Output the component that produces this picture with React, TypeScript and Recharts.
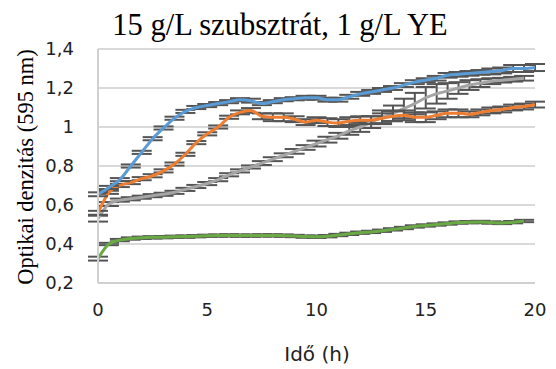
import React from "react";
import { LineChart, Line, XAxis, YAxis, CartesianGrid, ErrorBar } from "recharts";

const times = [0, 0.5, 1, 1.5, 2, 2.5, 3, 3.5, 4, 4.5, 5, 5.5, 6, 6.5, 7, 7.5, 8, 8.5, 9, 9.5, 10, 10.5, 11, 11.5, 12, 12.5, 13, 13.5, 14, 14.5, 15, 15.5, 16, 16.5, 17, 17.5, 18, 18.5, 19, 19.5, 20];

const blue = [0.655, 0.69, 0.73, 0.8, 0.87, 0.94, 0.995, 1.045, 1.08, 1.1, 1.11, 1.12, 1.13, 1.14, 1.135, 1.12, 1.13, 1.14, 1.145, 1.15, 1.15, 1.14, 1.14, 1.155, 1.17, 1.18, 1.19, 1.2, 1.215, 1.23, 1.24, 1.25, 1.265, 1.27, 1.275, 1.28, 1.285, 1.29, 1.3, 1.3, 1.305];
const blueErr = [0.01, 0.008, 0.008, 0.008, 0.008, 0.008, 0.008, 0.008, 0.008, 0.008, 0.008, 0.008, 0.008, 0.008, 0.01, 0.008, 0.008, 0.008, 0.008, 0.01, 0.01, 0.01, 0.01, 0.01, 0.01, 0.01, 0.01, 0.01, 0.01, 0.01, 0.01, 0.012, 0.012, 0.012, 0.012, 0.012, 0.015, 0.015, 0.018, 0.018, 0.018];

const orange = [0.56, 0.665, 0.7, 0.715, 0.735, 0.75, 0.775, 0.81, 0.86, 0.92, 0.965, 1.0, 1.05, 1.075, 1.085, 1.055, 1.05, 1.05, 1.04, 1.025, 1.035, 1.025, 1.02, 1.03, 1.035, 1.035, 1.045, 1.055, 1.06, 1.05, 1.05, 1.06, 1.07, 1.07, 1.065, 1.075, 1.085, 1.09, 1.1, 1.105, 1.115];
const orangeErr = [0.01, 0.008, 0.008, 0.008, 0.008, 0.008, 0.008, 0.008, 0.008, 0.008, 0.008, 0.008, 0.008, 0.01, 0.012, 0.015, 0.02, 0.02, 0.015, 0.015, 0.015, 0.02, 0.02, 0.02, 0.02, 0.02, 0.025, 0.025, 0.025, 0.025, 0.025, 0.02, 0.02, 0.02, 0.015, 0.015, 0.015, 0.015, 0.015, 0.015, 0.015];

const gray = [0.53, 0.605, 0.625, 0.632, 0.64, 0.648, 0.655, 0.665, 0.68, 0.695, 0.71, 0.73, 0.755, 0.775, 0.795, 0.815, 0.835, 0.855, 0.875, 0.895, 0.915, 0.935, 0.955, 0.98, 1.0, 1.025, 1.05, 1.07, 1.095, 1.12, 1.15, 1.17, 1.185, 1.2, 1.215, 1.225, 1.235, 1.24, 1.245, 1.25, null];
const grayErr = [0.015, 0.01, 0.008, 0.008, 0.008, 0.008, 0.008, 0.008, 0.008, 0.008, 0.008, 0.008, 0.008, 0.008, 0.008, 0.01, 0.01, 0.01, 0.012, 0.012, 0.015, 0.015, 0.015, 0.02, 0.025, 0.03, 0.035, 0.04, 0.05, 0.055, 0.055, 0.05, 0.04, 0.03, 0.025, 0.02, 0.015, 0.012, 0.012, 0.012, null];

const green = [0.325, 0.4, 0.42, 0.428, 0.432, 0.434, 0.435, 0.437, 0.438, 0.44, 0.442, 0.443, 0.444, 0.443, 0.443, 0.444, 0.444, 0.443, 0.441, 0.438, 0.437, 0.44, 0.446, 0.452, 0.458, 0.462, 0.468, 0.475, 0.482, 0.49, 0.495, 0.5, 0.505, 0.51, 0.512, 0.513, 0.51, 0.508, 0.512, 0.518, null];
const greenErr = [0.01, 0.006, 0.006, 0.006, 0.006, 0.006, 0.006, 0.006, 0.006, 0.006, 0.006, 0.006, 0.006, 0.006, 0.006, 0.006, 0.006, 0.006, 0.006, 0.006, 0.006, 0.006, 0.006, 0.006, 0.006, 0.006, 0.006, 0.006, 0.006, 0.006, 0.006, 0.006, 0.006, 0.006, 0.006, 0.006, 0.006, 0.006, 0.006, 0.006, null];

const xTicks = [0, 5, 10, 15, 20];
const yTicks = [0.2, 0.4, 0.6, 0.8, 1, 1.2, 1.4];

const data = times.map((t, i) => ({
  t,
  blue: blue[i],
  blueErr: blueErr[i],
  orange: orange[i],
  orangeErr: orangeErr[i],
  gray: gray[i],
  grayErr: grayErr[i],
  green: green[i],
  greenErr: greenErr[i],
}));

const tickFont = { fontFamily: "DejaVu Sans", fontSize: 18, fill: "#222" };
const errColor = "#555555";

const series = [
  { key: "gray", err: "grayErr", color: "#a5a5a5" },
  { key: "green", err: "greenErr", color: "#6aaa44" },
  { key: "orange", err: "orangeErr", color: "#ed7d31" },
  { key: "blue", err: "blueErr", color: "#5b9bd5" },
];

export default function App() {
  return (
    <div style={{ position: "absolute", left: 0, top: 0, width: 556, height: 369, background: "#fff" }}>
      <LineChart width={556} height={369} data={data} margin={{ top: 49, right: 21, left: 0, bottom: 46 }}>
        <CartesianGrid vertical={false} stroke="#d9d9d9" strokeWidth={2} />
        <XAxis
          dataKey="t"
          type="number"
          domain={[0, 20]}
          ticks={xTicks}
          tickLine={false}
          axisLine={{ stroke: "#d0d0d0", strokeWidth: 2 }}
          tick={tickFont}
          tickMargin={14}
          height={40}
        />
        <YAxis
          type="number"
          domain={[0.2, 1.4]}
          ticks={yTicks}
          tickFormatter={(v: number) => String(v).replace(".", ",")}
          tickLine={false}
          axisLine={{ stroke: "#d0d0d0", strokeWidth: 2 }}
          tick={tickFont}
          tickMargin={18}
          width={98}
          allowDataOverflow
        />
        {series.map((s) => (
          <Line
            key={s.key}
            dataKey={s.key}
            type="monotone"
            stroke={s.color}
            strokeWidth={3}
            dot={false}
            isAnimationActive={false}
            connectNulls={false}
          >
            <ErrorBar dataKey={s.err} direction="y" width={10} stroke={errColor} strokeWidth={2} />
          </Line>
        ))}
        <text x={280} y={35} textAnchor="middle" fontFamily="Liberation Serif" fontSize={30.5} fill="#000">
          15 g/L szubsztrát, 1 g/L YE
        </text>
        <text
          x={0}
          y={0}
          transform="translate(33,167) rotate(-90)"
          textAnchor="middle"
          fontFamily="Liberation Serif"
          fontSize={22.5}
          fill="#000"
        >
          Optikai denzitás (595 nm)
        </text>
        <text x={317} y={361} textAnchor="middle" fontFamily="DejaVu Sans" fontSize={20} fill="#222">
          Idő (h)
        </text>
      </LineChart>
    </div>
  );
}
